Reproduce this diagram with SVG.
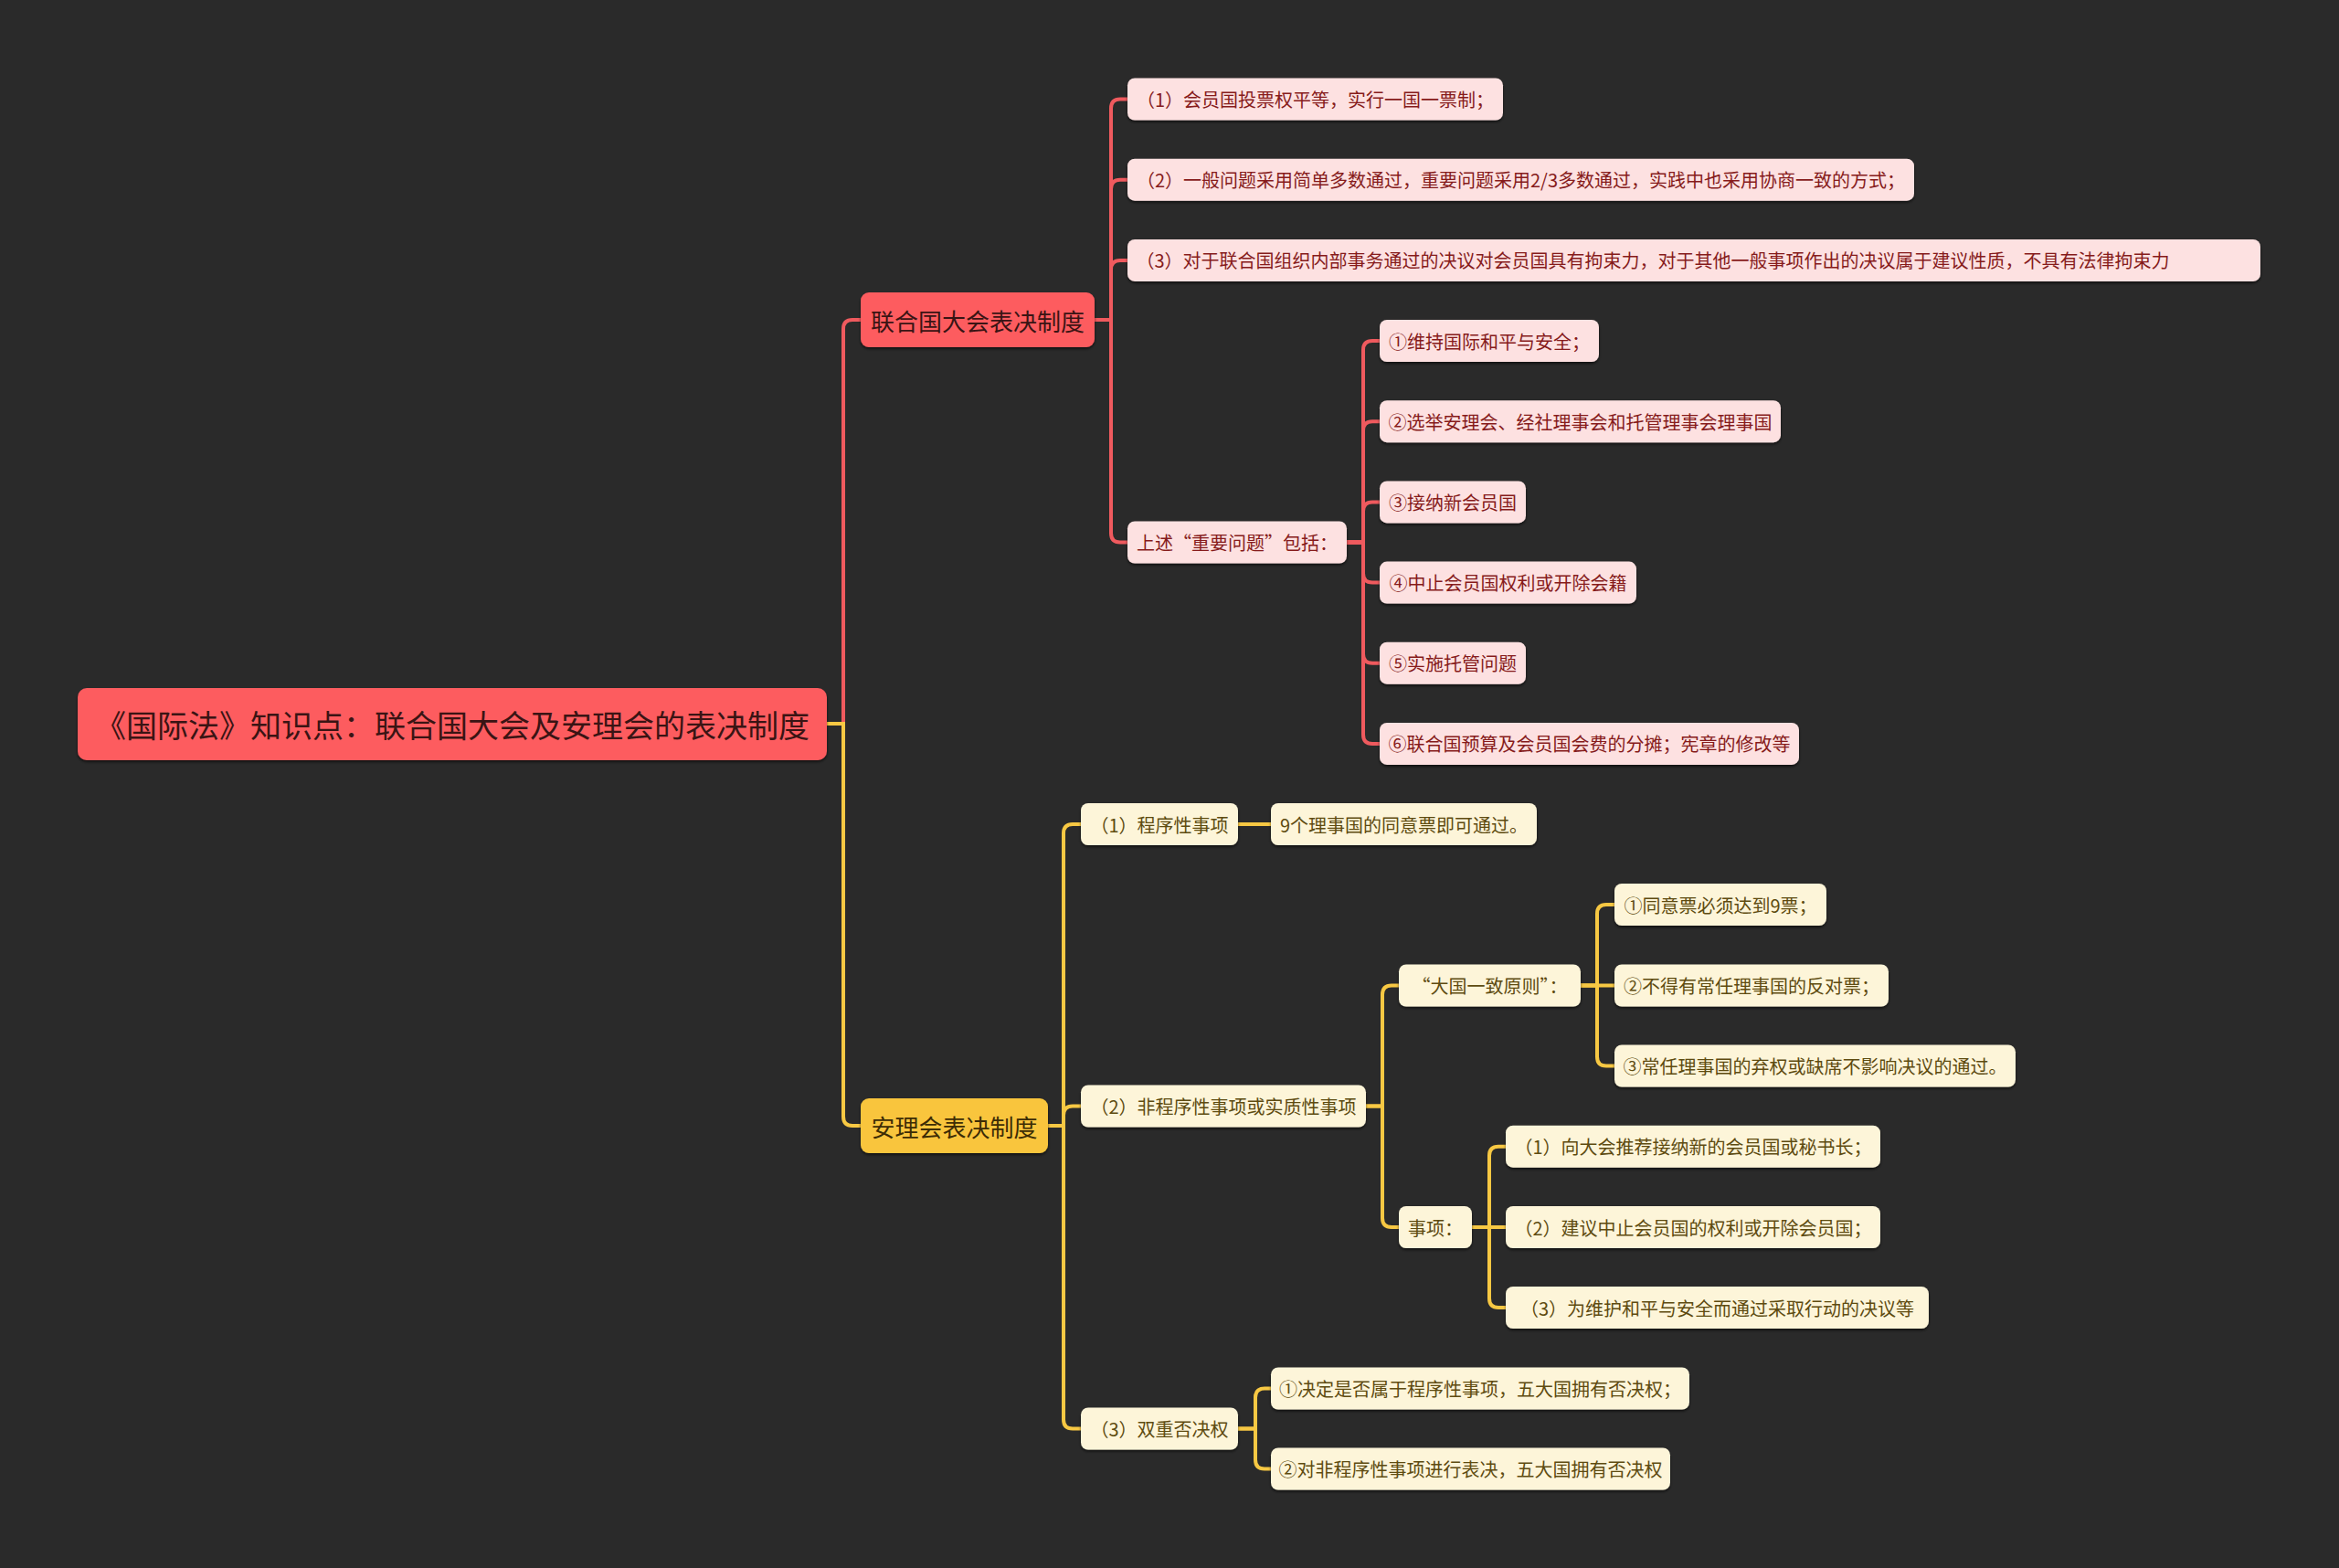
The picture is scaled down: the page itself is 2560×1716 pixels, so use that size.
<svg xmlns="http://www.w3.org/2000/svg" width="2560" height="1716" viewBox="0 0 2560 1716">
<defs>
<filter id="sh" x="-5%" y="-20%" width="110%" height="150%">
<feDropShadow dx="0" dy="2" stdDeviation="1.5" flood-color="#000" flood-opacity="0.6"/>
</filter>
<style>
text{font-family:"Noto Sans CJK SC","Noto Sans",sans-serif;text-anchor:middle;dominant-baseline:central}
.root rect{fill:#fd5b5f;filter:url(#sh)}
.root text{fill:#3a1414;font-size:34px}
.l1r rect{fill:#fd5b5f;filter:url(#sh)}
.l1r text{fill:#3a1414;font-size:26px}
.l1y rect{fill:#f9c53c;filter:url(#sh)}
.l1y text{fill:#3d2c05;font-size:26px}
.pk rect{fill:#fde1e1;filter:url(#sh)}
.pk text{fill:#861b1b;font-size:20px}
.cr rect{fill:#fdf5d9;filter:url(#sh)}
.cr text{fill:#5e4b10;font-size:20px}
.cr-r path{fill:none;stroke:#ef5a5e;stroke-width:4}
.cy path{fill:none;stroke:#f7c843;stroke-width:4}
</style>
</defs>
<rect width="2560" height="1716" fill="#2a2a2a"/>
<g id="connectors">
<g class="cr-r">
<path d="M905 792 H923 V360 Q923 350 933 350 H942"/>
<path d="M1198 350 H1216 V118.5 Q1216 108.5 1226 108.5 H1234"/>
<path d="M1198 350 H1216 V206.7 Q1216 196.7 1226 196.7 H1234"/>
<path d="M1198 350 H1216 V294.9 Q1216 284.9 1226 284.9 H1234"/>
<path d="M1198 350 H1216 V583.5 Q1216 593.5 1226 593.5 H1234"/>
<path d="M1474 593.5 H1492 V383 Q1492 373 1502 373 H1510"/>
<path d="M1474 593.5 H1492 V471.2 Q1492 461.2 1502 461.2 H1510"/>
<path d="M1474 593.5 H1492 V559.4 Q1492 549.4 1502 549.4 H1510"/>
<path d="M1474 593.5 H1492 V627.6 Q1492 637.6 1502 637.6 H1510"/>
<path d="M1474 593.5 H1492 V715.7 Q1492 725.7 1502 725.7 H1510"/>
<path d="M1474 593.5 H1492 V803.9 Q1492 813.9 1502 813.9 H1510"/>
</g>
<g class="cy">
<path d="M905 792 H923 V1222 Q923 1232 933 1232 H942"/>
<path d="M1147 1232 H1164 V912 Q1164 902 1174 902 H1183"/>
<path d="M1147 1232 H1164 V1220.5 Q1164 1210.5 1174 1210.5 H1183"/>
<path d="M1147 1232 H1164 V1553.5 Q1164 1563.5 1174 1563.5 H1183"/>
<path d="M1355 902 H1391"/>
<path d="M1495 1210.5 H1513 V1088.5 Q1513 1078.5 1523 1078.5 H1531"/>
<path d="M1495 1210.5 H1513 V1333 Q1513 1343 1523 1343 H1531"/>
<path d="M1730 1078.5 H1748 V1000 Q1748 990 1758 990 H1767"/>
<path d="M1730 1078.5 H1767"/>
<path d="M1730 1078.5 H1748 V1156.5 Q1748 1166.5 1758 1166.5 H1767"/>
<path d="M1611 1343 H1630 V1264.7 Q1630 1254.7 1640 1254.7 H1648"/>
<path d="M1611 1343 H1648"/>
<path d="M1611 1343 H1630 V1421 Q1630 1431 1640 1431 H1648"/>
<path d="M1355 1563.5 H1374 V1529.5 Q1374 1519.5 1384 1519.5 H1391"/>
<path d="M1355 1563.5 H1374 V1597.5 Q1374 1607.5 1384 1607.5 H1391"/>
</g>
</g>
<g id="root" class="root"><rect x="85" y="753" width="820" height="79" rx="10"/><text x="495" y="792">《国际法》知识点：联合国大会及安理会的表决制度</text></g>
<g id="n-ga" class="l1r"><rect x="942" y="320" width="256" height="60" rx="9"/><text x="1070" y="350">联合国大会表决制度</text></g>
<g id="n-sc" class="l1y"><rect x="942" y="1202" width="205" height="60" rx="9"/><text x="1044.5" y="1232">安理会表决制度</text></g>
<g id="n-ga1" class="pk"><rect x="1234" y="85.5" width="411" height="46" rx="8"/><text x="1439.5" y="108.5">（1）会员国投票权平等，实行一国一票制；</text></g>
<g id="n-ga2" class="pk"><rect x="1234" y="173.7" width="861" height="46" rx="8"/><text x="1664.5" y="196.7">（2）一般问题采用简单多数通过，重要问题采用2/3多数通过，实践中也采用协商一致的方式；</text></g>
<g id="n-ga3" class="pk"><rect x="1234" y="261.9" width="1240" height="46" rx="8"/><text x="1809" y="284.9">（3）对于联合国组织内部事务通过的决议对会员国具有拘束力，对于其他一般事项作出的决议属于建议性质，不具有法律拘束力</text></g>
<g id="n-ga4" class="pk"><rect x="1234" y="570.5" width="240" height="46" rx="8"/><text x="1354" y="593.5">上述“重要问题”包括：</text></g>
<g id="n-i1" class="pk"><rect x="1510" y="350" width="240" height="46" rx="8"/><text x="1630" y="373">①维持国际和平与安全；</text></g>
<g id="n-i2" class="pk"><rect x="1510" y="438.2" width="439" height="46" rx="8"/><text x="1729.5" y="461.2">②选举安理会、经社理事会和托管理事会理事国</text></g>
<g id="n-i3" class="pk"><rect x="1510" y="526.4" width="160" height="46" rx="8"/><text x="1590" y="549.4">③接纳新会员国</text></g>
<g id="n-i4" class="pk"><rect x="1510" y="614.6" width="281" height="46" rx="8"/><text x="1650.5" y="637.6">④中止会员国权利或开除会籍</text></g>
<g id="n-i5" class="pk"><rect x="1510" y="702.7" width="160" height="46" rx="8"/><text x="1590" y="725.7">⑤实施托管问题</text></g>
<g id="n-i6" class="pk"><rect x="1510" y="790.9" width="459" height="46" rx="8"/><text x="1739.5" y="813.9">⑥联合国预算及会员国会费的分摊；宪章的修改等</text></g>
<g id="n-sc1" class="cr"><rect x="1183" y="879" width="172" height="46" rx="8"/><text x="1269" y="902">（1）程序性事项</text></g>
<g id="n-sc1a" class="cr"><rect x="1391" y="879" width="291" height="46" rx="8"/><text x="1536.5" y="902">9个理事国的同意票即可通过。</text></g>
<g id="n-sc2" class="cr"><rect x="1183" y="1187.5" width="312" height="46" rx="8"/><text x="1339" y="1210.5">（2）非程序性事项或实质性事项</text></g>
<g id="n-big" class="cr"><rect x="1531" y="1055.5" width="199" height="46" rx="8"/><text x="1630.5" y="1078.5">“大国一致原则”：</text></g>
<g id="n-b1" class="cr"><rect x="1767" y="967" width="232" height="46" rx="8"/><text x="1883" y="990">①同意票必须达到9票；</text></g>
<g id="n-b2" class="cr"><rect x="1767" y="1055.5" width="300" height="46" rx="8"/><text x="1917" y="1078.5">②不得有常任理事国的反对票；</text></g>
<g id="n-b3" class="cr"><rect x="1767" y="1143.5" width="439" height="46" rx="8"/><text x="1986.5" y="1166.5">③常任理事国的弃权或缺席不影响决议的通过。</text></g>
<g id="n-mt" class="cr"><rect x="1531" y="1320" width="80" height="46" rx="8"/><text x="1571" y="1343">事项：</text></g>
<g id="n-m1" class="cr"><rect x="1648" y="1231.7" width="410" height="46" rx="8"/><text x="1853" y="1254.7">（1）向大会推荐接纳新的会员国或秘书长；</text></g>
<g id="n-m2" class="cr"><rect x="1648" y="1320" width="410" height="46" rx="8"/><text x="1853" y="1343">（2）建议中止会员国的权利或开除会员国；</text></g>
<g id="n-m3" class="cr"><rect x="1648" y="1408" width="463" height="46" rx="8"/><text x="1879.5" y="1431">（3）为维护和平与安全而通过采取行动的决议等</text></g>
<g id="n-sc3" class="cr"><rect x="1183" y="1540.5" width="172" height="46" rx="8"/><text x="1269" y="1563.5">（3）双重否决权</text></g>
<g id="n-v1" class="cr"><rect x="1391" y="1496.5" width="458" height="46" rx="8"/><text x="1620" y="1519.5">①决定是否属于程序性事项，五大国拥有否决权；</text></g>
<g id="n-v2" class="cr"><rect x="1391" y="1584.5" width="437" height="46" rx="8"/><text x="1609.5" y="1607.5">②对非程序性事项进行表决，五大国拥有否决权</text></g>
</svg>
